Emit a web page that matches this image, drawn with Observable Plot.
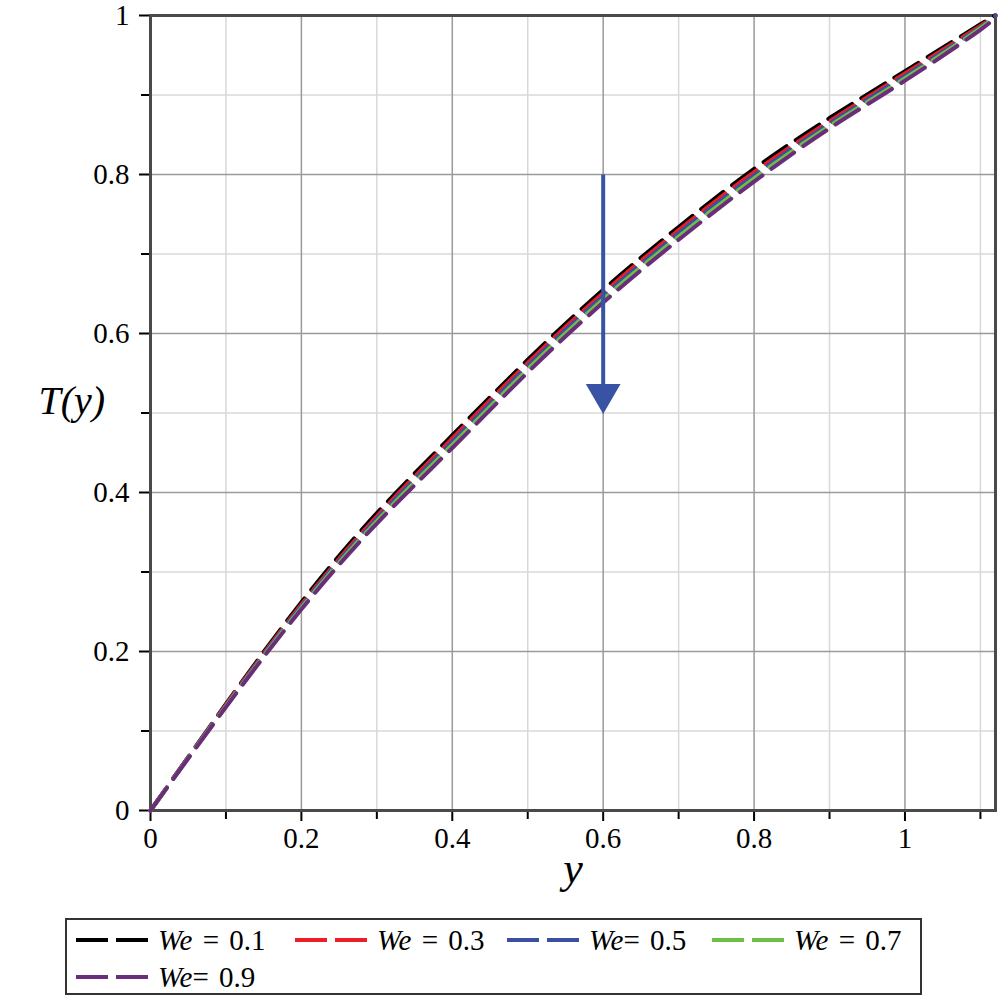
<!DOCTYPE html>
<html>
<head>
<meta charset="utf-8">
<script src="https://cdn.jsdelivr.net/npm/d3@7"></script>
<script src="https://cdn.jsdelivr.net/npm/@observablehq/plot@0.6"></script>
<style>
  html, body { margin: 0; padding: 0; background: #fff; }
  #wrap { position: relative; width: 1006px; height: 1001px; }
  #legend { position: absolute; left: 65px; top: 918px; width: 853px; height: 73px; border: 2px solid #333; box-sizing: content-box; font-family: "Liberation Serif", "Times New Roman", "DejaVu Serif", serif; font-size: 29px; word-spacing: 3px; }
  .entry { position: absolute; display: flex; align-items: center; white-space: pre; }
  .entry svg { margin-right: 10px; }
  .entry i { font-style: italic; }
  svg text { font-family: "Liberation Serif", "Times New Roman", "DejaVu Serif", serif; }
</style>
</head>
<body>
<div id="wrap"></div>
<script>
// ---- data ----
const yVals = [0, 0.1, 0.2, 0.3, 0.4, 0.5, 0.6, 0.7, 0.8, 0.9, 1.0, 1.1, 1.12];
const T_We01 = [0, 0.134, 0.262, 0.374, 0.472, 0.567, 0.655, 0.734, 0.807, 0.871, 0.930, 0.989, 1.0];
const T_We03 = [0, 0.133, 0.259, 0.370, 0.468, 0.563, 0.651, 0.730, 0.803, 0.867, 0.927, 0.987, 1.0];
const T_We05 = [0, 0.132, 0.257, 0.367, 0.464, 0.559, 0.647, 0.726, 0.799, 0.864, 0.924, 0.985, 1.0];
const T_We07 = [0, 0.131, 0.255, 0.364, 0.460, 0.555, 0.643, 0.722, 0.795, 0.861, 0.921, 0.984, 1.0];
const T_We09 = [0, 0.130, 0.253, 0.361, 0.456, 0.551, 0.639, 0.718, 0.791, 0.858, 0.918, 0.982, 1.0];
const seriesLabels = ["We = 0.1", "We = 0.3", "We= 0.5", "We = 0.7", "We= 0.9"];
const seriesColors = ["#000000", "#ee1c25", "#3b4fa2", "#6cbf44", "#6b2d7b"];
const seriesValues = [T_We01, T_We03, T_We05, T_We07, T_We09];

const xMajorTicks = [0, 0.2, 0.4, 0.6, 0.8, 1];
const xMinorTicks = [0.1, 0.3, 0.5, 0.7, 0.9, 1.1];
const yMajorTicks = [0, 0.2, 0.4, 0.6, 0.8, 1];
const yMinorTicks = [0.1, 0.3, 0.5, 0.7, 0.9];
const tickLabels = ["0", "0.2", "0.4", "0.6", "0.8", "1"];

// arrow annotation (We increasing)
const arrowX = 0.6, arrowTop = 0.8, arrowBaseY = 0.536, arrowHeadY = 0.524;
const arrowColor = "#3953a4";

// ---- build table ----
const data = seriesValues.flatMap((vals, i) =>
  vals.map((t, j) => ({ y: yVals[j], T: t, we: seriesLabels[i] }))
);
const xLabelData = xMajorTicks.map((v, i) => ({ v, label: tickLabels[i] }));
const yLabelData = yMajorTicks.map((v, i) => ({ v, label: tickLabels[i] }));
const serif = "Liberation Serif, Times New Roman, DejaVu Serif, serif";
const blank = () => "";

const plot = Plot.plot({
  width: 1006,
  height: 910,
  marginLeft: 150,
  marginRight: 11,
  marginTop: 15,
  marginBottom: 100,
  style: { fontFamily: serif, fontSize: "22px", background: "#fff", color: "#000" },
  x: { domain: [0, 1.12] },
  y: { domain: [0, 1] },
  color: { domain: seriesLabels, range: seriesColors },
  marks: [
    Plot.gridX(xMinorTicks, { stroke: "#d8d8d8", strokeOpacity: 1, strokeWidth: 1.5 }),
    Plot.gridY(yMinorTicks, { stroke: "#d8d8d8", strokeOpacity: 1, strokeWidth: 1.5 }),
    Plot.gridX(xMajorTicks, { stroke: "#9a9a9a", strokeOpacity: 1, strokeWidth: 1.5 }),
    Plot.gridY(yMajorTicks, { stroke: "#9a9a9a", strokeOpacity: 1, strokeWidth: 1.5 }),
    Plot.axisX(xMajorTicks, { tickSize: 11, tickFormat: blank, strokeWidth: 2, label: null }),
    Plot.axisX(xMinorTicks, { tickSize: 9, tickFormat: blank, strokeWidth: 2, label: null }),
    Plot.axisY(yMajorTicks, { tickSize: 11, tickFormat: blank, strokeWidth: 2, label: null }),
    Plot.axisY(yMinorTicks, { tickSize: 9, tickFormat: blank, strokeWidth: 2, label: null }),
    Plot.text(xLabelData, { x: "v", text: "label", frameAnchor: "bottom", dy: 37, fontSize: 29, fill: "#000" }),
    Plot.text(yLabelData, { y: "v", text: "label", frameAnchor: "left", dx: -21, textAnchor: "end", fontSize: 29, fill: "#000" }),
    Plot.frame({ stroke: "#4a4a4a", strokeWidth: 3 }),
    Plot.line(data, { x: "y", y: "T", z: "we", stroke: "we", strokeWidth: 4, strokeDasharray: "28,11", curve: "natural" }),
    Plot.link([{ x: arrowX, y1: arrowTop, y2: arrowBaseY }], { x1: "x", x2: "x", y1: "y1", y2: "y2", stroke: arrowColor, strokeWidth: 4 }),
    Plot.dot([{ x: arrowX, y: arrowHeadY }], { x: "x", y: "y", symbol: "triangle", rotate: 180, r: 12.9, fill: arrowColor, stroke: "none" }),
    Plot.text(["T(y)"], { frameAnchor: "left", dx: -112, dy: -12, fontSize: 40, fontStyle: "italic", fill: "#000" }),
    Plot.text(["y"], { frameAnchor: "bottom", dy: 72, fontSize: 44, fontStyle: "italic", fill: "#000" })
  ]
});

const wrap = document.getElementById("wrap");
plot.style.position = "absolute";
plot.style.left = "0px";
plot.style.top = "0px";
wrap.appendChild(plot);

// ---- legend ----
const legend = document.createElement("div");
legend.id = "legend";
const positions = [[9, 20], [228, 20], [440, 20], [645, 20], [9, 57]];
seriesLabels.forEach((lab, i) => {
  const e = document.createElement("div");
  e.className = "entry";
  e.style.left = positions[i][0] + "px";
  e.style.top = (positions[i][1] - 18) + "px";
  e.style.height = "36px";
  const sw = `<svg width="72" height="10"><line x1="0" y1="5" x2="72" y2="5" stroke="${seriesColors[i]}" stroke-width="4" stroke-dasharray="32,8"/></svg>`;
  const [w, rest] = [lab.slice(0, 2), lab.slice(2)];
  e.innerHTML = sw + `<span><i>${w}</i>${rest}</span>`;
  legend.appendChild(e);
});
wrap.appendChild(legend);
</script>
</body>
</html>
